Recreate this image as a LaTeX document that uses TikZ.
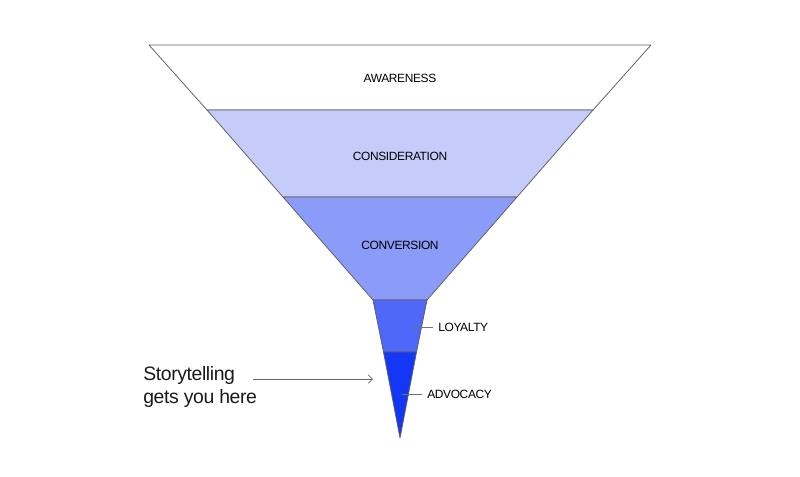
\documentclass[tikz,border=0pt]{standalone}
\usepackage{fontspec}
\setmainfont{Liberation Sans}
\newfontfamily\stagefont[LetterSpace=-3]{Liberation Sans}
\newfontfamily\storyfont[LetterSpace=-2]{Liberation Sans}
\usepackage{tikz}
\usetikzlibrary{positioning, arrows.meta, calc}

\definecolor{consid}{RGB}{197,204,250}
\definecolor{convers}{RGB}{139,155,248}
\definecolor{loyal}{RGB}{80,104,250}
\definecolor{advoc}{RGB}{20,55,245}
\definecolor{edge}{RGB}{95,95,100}

\tikzset{
  band/.style={draw=edge, line width=0.55pt, line join=round},
  stage/.style={font=\stagefont\fontsize{8.5}{10}\selectfont, text=black, inner sep=0pt},
  leader/.style={draw=black!55, line width=0.5pt},
}

\begin{document}
\begin{tikzpicture}[x=0.025cm, y=-0.025cm, >={Straight Barb[length=3pt, width=6pt]}]

% --- Canvas ---
\useasboundingbox (0, 0) rectangle (800, 476);

% --- Funnel bands (top y, bottom y, half widths, fill) ---
\foreach \ya/\yb/\wa/\wb/\col in {45/110/251/193/white, 110/197/193/117/consid,
    197/300/117/27/convers, 300/352/27/16.5/loyal, 352/438/16.5/0/advoc} {
  \filldraw[band, fill=\col] (400-\wa, \ya) -- (400+\wa, \ya)
    -- (400+\wb, \yb) -- (400-\wb, \yb) -- cycle;
}

% --- Stage names inside the funnel ---
\node[stage] (awareness) at (400, 78) {AWARENESS};
\node[stage] (consideration) at (400, 156) {CONSIDERATION};
\node[stage] (conversion) at (400, 245) {CONVERSION};

% --- Stage names beside the narrow neck ---
\coordinate (loyaltyin) at (413, 327);
\coordinate (advocacyin) at (402, 394);
\node[stage, anchor=west] (loyalty) at (438, 327) {LOYALTY};
\node[stage, anchor=west] (advocacy) at (427, 394) {ADVOCACY};
\draw[leader] (loyaltyin) -- ++(20, 0);
\draw[leader] (advocacyin) -- ++(20, 0);

% --- Storytelling callout ---
\node[font=\storyfont\fontsize{13.8}{16.8}\selectfont, align=left, anchor=north west,
  inner sep=0pt, text=black!90] (story) at (143, 366)
  {Storytelling\\gets you here};
\coordinate (storytip) at (373, 379);
\draw[->, black!60, line width=0.5pt] (253, 379) -- (storytip);

\end{tikzpicture}
\end{document}
